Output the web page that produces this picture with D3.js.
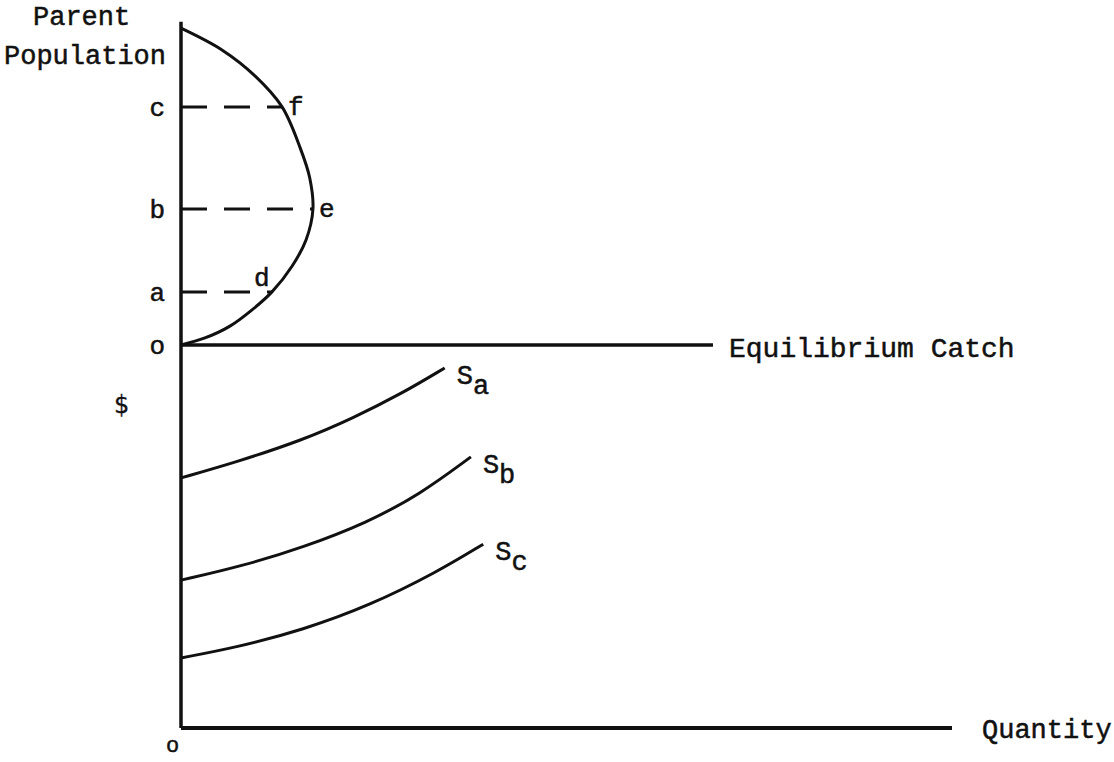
<!DOCTYPE html>
<meta charset="utf-8">
<script src="https://d3js.org/d3.v7.min.js"></script>
<style>
  body { margin: 0; background: #fff; }
  text { font-family: "Liberation Mono", "Courier New", monospace; fill: #111; stroke: #111; stroke-width: 0.5px; }
</style>
<div id="chart"></div>
<script>
// upper panel: parent population vs equilibrium catch
const popLevels = [0, 16.6, 42.5, 74.4];
const popLabels = ["o", "a", "b", "c"];
const yieldPop = [0, 2.2, 5.9, 10.9, 16.6, 24.7, 32.8, 42.5, 52.2, 61.6, 74.4, 84.1, 92.2, 99];
const yieldCatch = [0, 4.5, 9.2, 13.3, 17.1, 20.9, 23.5, 24.8, 24.2, 22.4, 19.0, 13.9, 7.7, 0];
const pointLabels = ["d", "e", "f"];
const pointCatch = [17.1, 24.8, 19.0];

// lower panel: supply curves
const supplyNames = ["a", "b", "c"];
const supplyQty = [
  [0, 7.3, 15.8, 22.3, 28.8, 34.2],
  [0, 8, 16, 24, 31, 37.6],
  [0, 7.3, 15.8, 24.5, 33.2, 39.2]
];
const supplyPrice = [
  [65.3, 69.5, 75.2, 80.9, 87.5, 94.0],
  [38.6, 42.3, 47.3, 53.5, 61.0, 70.8],
  [18.3, 21.1, 25.6, 32.0, 40.7, 48.0]
];

const W = 1114, H = 762;
const svg = d3.select("#chart").append("svg")
  .attr("width", W).attr("height", H);

// scales
const catchX = d3.scaleLinear().domain([0, 100]).range([181, 713]);
const popY = d3.scaleLinear().domain([0, 100]).range([345, 25]);
const qtyX = d3.scaleLinear().domain([0, 100]).range([181, 952]);
const priceY = d3.scaleLinear().domain([0, 100]).range([728, 345]);

const ink = "#111";

// vertical axis through both panels
svg.append("line")
  .attr("x1", catchX(0)).attr("x2", catchX(0))
  .attr("y1", popY(101)).attr("y2", priceY(0))
  .attr("stroke", ink).attr("stroke-width", 3.5);

// upper horizontal axis
svg.append("line")
  .attr("x1", catchX(0)).attr("x2", catchX(100))
  .attr("y1", popY(0)).attr("y2", popY(0))
  .attr("stroke", ink).attr("stroke-width", 3.5);

// lower horizontal axis
svg.append("line")
  .attr("x1", qtyX(0)).attr("x2", qtyX(100))
  .attr("y1", priceY(0)).attr("y2", priceY(0))
  .attr("stroke", ink).attr("stroke-width", 4);

// o, a, b, c labels on the population axis
const popAxis = svg.append("g")
  .attr("transform", "translate(" + catchX(0) + ",0)")
  .call(d3.axisLeft(popY)
    .tickValues(popLevels)
    .tickFormat((d, i) => popLabels[i])
    .tickSize(0)
    .tickPadding(16));
popAxis.select(".domain").remove();
popAxis.selectAll("text")
  .style("font-family", "Liberation Mono, monospace")
  .style("font-size", "26px")
  .attr("fill", ink);

// dashed lines from axis to curve
svg.selectAll(".dash")
  .data(pointCatch)
  .enter().append("line")
  .attr("class", "dash")
  .attr("x1", catchX(0)).attr("x2", d => catchX(d))
  .attr("y1", (d, i) => popY(popLevels[i + 1]))
  .attr("y2", (d, i) => popY(popLevels[i + 1]))
  .attr("stroke", ink).attr("stroke-width", 3)
  .attr("stroke-dasharray", "26,17");

// yield curve
const yieldPts = yieldPop.map((p, i) => [yieldCatch[i], p]);
svg.append("path")
  .datum(yieldPts)
  .attr("fill", "none")
  .attr("stroke", ink)
  .attr("stroke-width", 3)
  .attr("d", d3.line()
    .x(d => catchX(d[0]))
    .y(d => popY(d[1]))
    .curve(d3.curveCatmullRom.alpha(0.5)));

// d, e, f labels
const ptOffsets = [[-18, -6], [6, 8], [6, 8]];
svg.selectAll(".ptlab")
  .data(pointLabels)
  .enter().append("text")
  .attr("class", "ptlab")
  .attr("x", (d, i) => catchX(pointCatch[i]) + ptOffsets[i][0])
  .attr("y", (d, i) => popY(popLevels[i + 1]) + ptOffsets[i][1])
  .style("font-size", "26px")
  .text(d => d);

// supply curves
const supplyLine = d3.line()
  .x(d => qtyX(d[0]))
  .y(d => priceY(d[1]))
  .curve(d3.curveBasis);

supplyNames.forEach((name, k) => {
  const pts = supplyQty[k].map((q, i) => [q, supplyPrice[k][i]]);
  svg.append("path")
    .datum(pts)
    .attr("fill", "none")
    .attr("stroke", ink)
    .attr("stroke-width", 3)
    .attr("d", supplyLine);

  const last = pts[pts.length - 1];
  const lab = svg.append("text")
    .attr("x", qtyX(last[0]) + 12)
    .attr("y", priceY(last[1]) + 16)
    .style("font-size", "27px");
  lab.append("tspan").text("S");
  lab.append("tspan").attr("dy", 10).text(name);
});

// axis titles
svg.append("text")
  .attr("x", 33).attr("y", 25)
  .style("font-size", "27px")
  .text("Parent");
svg.append("text")
  .attr("x", 4).attr("y", 64)
  .style("font-size", "27px")
  .text("Population");

svg.append("text")
  .attr("x", catchX(100) + 16).attr("y", popY(0) + 12)
  .style("font-size", "28px")
  .text("Equilibrium Catch");

svg.append("text")
  .attr("x", 114).attr("y", priceY(86) + 14)
  .style("font-family", "DejaVu Sans, sans-serif")
  .style("stroke-width", "0.3px")
  .style("font-size", "24px")
  .text("$");

svg.append("text")
  .attr("x", qtyX(100) + 30).attr("y", priceY(0) + 10)
  .style("font-size", "27px")
  .text("Quantity");

svg.append("text")
  .attr("x", qtyX(0) - 15).attr("y", priceY(0) + 24)
  .style("font-size", "22px")
  .text("o");
</script>
